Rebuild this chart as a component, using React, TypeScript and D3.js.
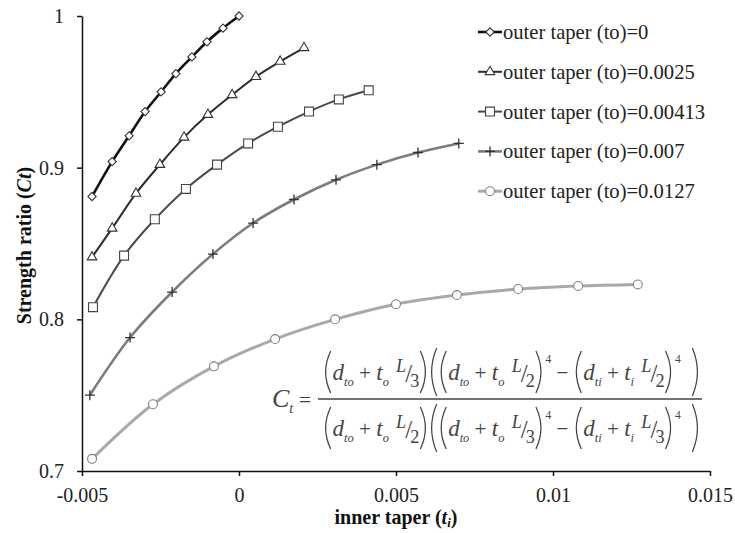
import React, { useEffect, useRef } from "react";
import * as d3 from "d3";

const xTicks = [-0.005, 0, 0.005, 0.01, 0.015];
const yTicks = [0.7, 0.8, 0.9, 1];

const legendLabels = [
  "outer taper (to)=0",
  "outer taper (to)=0.0025",
  "outer taper (to)=0.00413",
  "outer taper (to)=0.007",
  "outer taper (to)=0.0127",
];

// inner taper (x) and strength ratio (y), one pair per outer taper
const ti0 = [-0.00468, -0.00404, -0.0035, -0.00299, -0.00248, -0.00201, -0.0015, -0.00102, -0.00051, 0];
const ct0 = [0.881, 0.904, 0.921, 0.937, 0.95, 0.962, 0.973, 0.983, 0.992, 1.0];

const ti1 = [-0.00468, -0.00404, -0.00328, -0.00252, -0.00175, -0.00099, -0.00022, 0.00054, 0.00131, 0.00207];
const ct1 = [0.841, 0.86, 0.883, 0.902, 0.92, 0.935, 0.948, 0.96, 0.97, 0.979];

const ti2 = [-0.00465, -0.00366, -0.00268, -0.00169, -0.0007, 0.00029, 0.00124, 0.00223, 0.00318, 0.00413];
const ct2 = [0.808, 0.842, 0.866, 0.886, 0.902, 0.916, 0.927, 0.937, 0.945, 0.951];

const ti3 = [-0.00475, -0.00347, -0.00213, -0.00083, 0.00045, 0.00175, 0.00309, 0.00439, 0.0057, 0.007];
const ct3 = [0.75, 0.788, 0.818, 0.843, 0.8635, 0.879, 0.892, 0.902, 0.91, 0.916];

const ti4 = [-0.00468, -0.00274, -0.0008, 0.00115, 0.00306, 0.005, 0.00694, 0.00889, 0.0108, 0.0127];
const ct4 = [0.708, 0.744, 0.769, 0.787, 0.8, 0.81, 0.816, 0.82, 0.822, 0.823];

const seriesX = [ti0, ti1, ti2, ti3, ti4];
const seriesY = [ct0, ct1, ct2, ct3, ct4];

const styles = [
  { line: "#111", width: 2.6, marker: "diamond", mstroke: "#333" },
  { line: "#2c2c2c", width: 2, marker: "triangle", mstroke: "#333" },
  { line: "#4a4a4a", width: 2, marker: "square", mstroke: "#444" },
  { line: "#7c7c7c", width: 2.6, marker: "plus", mstroke: "#333" },
  { line: "#a9a9a9", width: 3, marker: "circle", mstroke: "#808080" },
];

const W = 735;
const H = 533;
const margin = { top: 16, right: 25, bottom: 62, left: 82 };
const serif = "'Liberation Serif', 'Times New Roman', serif";

function drawMarker(g: any, kind: string, x: number, y: number, stroke: string) {
  if (kind === "plus") {
    g.append("path")
      .attr("d", `M${x - 5},${y}H${x + 5}M${x},${y - 5}V${y + 5}`)
      .attr("stroke", stroke)
      .attr("stroke-width", 1.3)
      .attr("fill", "none");
    return;
  }
  const types: any = {
    diamond: [d3.symbolSquare, 34, 45],
    triangle: [d3.symbolTriangle, 40, 0],
    square: [d3.symbolSquare, 80, 0],
    circle: [d3.symbolCircle, 62, 0],
  };
  const [sym, size, rot] = types[kind];
  g.append("path")
    .attr("d", d3.symbol(sym, size)())
    .attr("transform", `translate(${x},${y}) rotate(${rot})`)
    .attr("fill", "#fff")
    .attr("stroke", stroke)
    .attr("stroke-width", 1.1);
}

// formula pieces
const t = (s: string, it = true, fs = 24, dy = 0, pre = 0) => ({ s, it, fs, dy, pre });
const sub = (s: string) => t(s, true, 13, 6, 0);
const sup = (s: string) => t(s, false, 12, -17, 1);
const op = (s: string) => t(s, false, 22, 0, 0);
const frac = (n: string) => [t("L", true, 19, -8, 2), t("/", false, 26, 2, -1), t(n, false, 19, 7, -2)];
const po = (h: number) => ({ paren: "(", h, w: 7 });
const pc = (h: number) => ({ paren: ")", h, w: 7 });

const rowParts = (a: string, b: string) => [
  po(42), t("d"), sub("to"), op(" + "), t("t"), sub("o"), op(" "), ...frac(a), pc(42),
  po(48), po(42), t("d"), sub("to"), op(" + "), t("t"), sub("o"), op(" "), ...frac(b), pc(42), sup("4"),
  op(" − "), po(42), t("d"), sub("ti"), op(" + "), t("t"), sub("i"), op(" "), ...frac(b), pc(42), sup("4"),
  op("  "), pc(48),
];

function drawRow(g: any, parts: any[], x0: number, base: number, width: number) {
  const row = g.append("g");
  let cur = 0;
  parts.forEach((p: any) => {
    if (p.paren) {
      const cy = -8;
      const x = cur + 1;
      const d = p.paren === "("
        ? `M${x + p.w},${cy - p.h / 2}Q${x - p.w * 0.5},${cy} ${x + p.w},${cy + p.h / 2}`
        : `M${x},${cy - p.h / 2}Q${x + p.w * 1.5},${cy} ${x},${cy + p.h / 2}`;
      row.append("path").attr("d", d).attr("fill", "none").attr("stroke", "#444").attr("stroke-width", 1.3);
      cur += p.w + 3;
      return;
    }
    cur += p.pre;
    const el = row.append("text")
      .attr("x", cur)
      .attr("y", p.dy)
      .attr("font-size", p.fs)
      .attr("font-style", p.it ? "italic" : "normal")
      .attr("fill", "#444")
      .style("white-space", "pre")
      .text(p.s);
    cur += el.node().getComputedTextLength();
  });
  row.attr("transform", `translate(${x0},${base}) scale(${width / cur},1)`);
}

export default function App() {
  const ref = useRef<SVGSVGElement | null>(null);

  useEffect(() => {
    const svg = d3.select(ref.current);
    svg.selectAll("*").remove();

    svg.append("rect").attr("width", W).attr("height", H).attr("fill", "#fff");

    const x = d3.scaleLinear().domain([-0.005, 0.015]).range([margin.left, W - margin.right]);
    const y = d3.scaleLinear().domain([0.7, 1]).range([H - margin.bottom, margin.top]);

    const fmt = (d: any) => String(d);

    const xAxis = svg.append("g")
      .attr("transform", `translate(0,${H - margin.bottom})`)
      .call(d3.axisBottom(x).tickValues(xTicks).tickFormat(fmt).tickSize(5).tickSizeOuter(0).tickPadding(12));
    const yAxis = svg.append("g")
      .attr("transform", `translate(${margin.left},0)`)
      .call(d3.axisLeft(y).tickValues(yTicks).tickFormat(fmt).tickSize(5).tickSizeOuter(0).tickPadding(13));

    [xAxis, yAxis].forEach((a) => {
      a.attr("font-family", serif).attr("font-size", 20);
      a.selectAll("path, line").attr("stroke", "#111").attr("stroke-width", 1.5);
      a.selectAll("text").attr("fill", "#222");
    });

    // axis titles
    const xt = svg.append("text")
      .attr("x", (margin.left + W - margin.right) / 2)
      .attr("y", 524)
      .attr("text-anchor", "middle")
      .attr("font-family", serif)
      .attr("font-size", 20)
      .attr("font-weight", "bold")
      .attr("fill", "#111");
    xt.append("tspan").text("inner taper (");
    xt.append("tspan").attr("font-style", "italic").text("t");
    xt.append("tspan").attr("font-style", "italic").attr("font-size", 13).attr("dy", 3).text("i");
    xt.append("tspan").attr("dy", -3).text(")");

    const yt = svg.append("text")
      .attr("transform", `translate(31,${(margin.top + H - margin.bottom) / 2 + 2}) rotate(-90)`)
      .attr("text-anchor", "middle")
      .attr("font-family", serif)
      .attr("font-size", 20)
      .attr("font-weight", "bold")
      .attr("fill", "#111");
    yt.append("tspan").text("Strength ratio (");
    yt.append("tspan").attr("font-style", "italic").text("Ct");
    yt.append("tspan").text(")");

    // series
    const line = d3.line().curve(d3.curveCatmullRom.alpha(0.5));

    seriesX.forEach((xs, si) => {
      const st = styles[si];
      const pts: [number, number][] = xs.map((v, i) => [x(v), y(seriesY[si][i])]);
      svg.append("path")
        .attr("d", line(pts))
        .attr("fill", "none")
        .attr("stroke", st.line)
        .attr("stroke-width", st.width)
        .attr("stroke-linejoin", "round");
      const mg = svg.append("g");
      pts.forEach(([px, py]) => drawMarker(mg, st.marker, px, py, st.mstroke));
    });

    // legend
    const lg = svg.append("g").attr("font-family", serif).attr("font-size", 20.6);
    legendLabels.forEach((lab, i) => {
      const st = styles[i];
      const ly = 32 + i * 39.8;
      lg.append("line")
        .attr("x1", 478).attr("x2", 502).attr("y1", ly).attr("y2", ly)
        .attr("stroke", st.line).attr("stroke-width", st.width);
      drawMarker(lg, st.marker, 490, ly, st.mstroke);
      lg.append("text").attr("x", 503).attr("y", ly + 7).attr("fill", "#222").text(lab);
    });

    // formula
    const fg = svg.append("g").attr("font-family", serif);
    const ct = fg.append("text").attr("x", 272).attr("y", 407).attr("fill", "#444").attr("font-size", 26);
    ct.append("tspan").attr("font-style", "italic").text("C");
    ct.append("tspan").attr("font-style", "italic").attr("font-size", 14).attr("dy", 6).text("t");
    ct.append("tspan").attr("dy", -6).attr("font-size", 22).text(" =");

    fg.append("line")
      .attr("x1", 318).attr("x2", 702).attr("y1", 399).attr("y2", 399)
      .attr("stroke", "#444").attr("stroke-width", 1.3);

    drawRow(fg, rowParts("3", "2"), 323, 380, 378);
    drawRow(fg, rowParts("2", "3"), 323, 436, 378);
  }, []);

  return (
    <svg
      ref={ref}
      width={W}
      height={H}
      style={{ position: "absolute", left: 0, top: 0, display: "block" }}
    />
  );
}
